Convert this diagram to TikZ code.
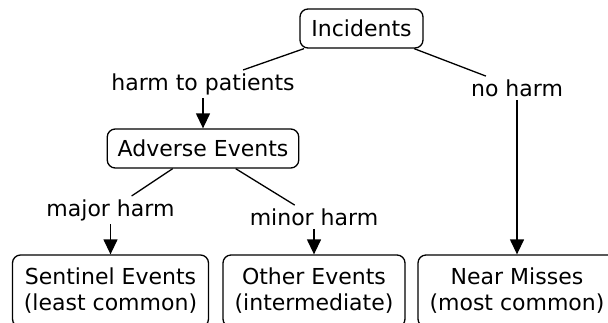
\documentclass[tikz,border=0pt]{standalone}
\usepackage{fontspec}
\setmainfont{DejaVu Sans}
\usetikzlibrary{arrows.meta}

\begin{document}
\begin{tikzpicture}[x=0.5pt, y=-0.5pt,
  box/.style={rectangle, rounded corners=4pt, draw, line width=0.65pt, inner sep=1pt, align=center, font=\fontsize{11}{13}\selectfont},
  lbl/.style={inner sep=1.5pt, font=\fontsize{11}{13}\selectfont},
  arr/.style={-{Triangle[length=7.5pt, width=7pt]}, line width=0.65pt},
  ln/.style={line width=0.65pt}
]
\clip (0,0) rectangle (608,322);
\node[box, minimum width=61.5pt, minimum height=19.5pt] (inc) at (361.5,28.5) {Incidents};
\node[lbl] (harm) at (203,84) {harm to patients};
\node[lbl] (noharm) at (517,88) {no harm};
\node[box, minimum width=95.75pt, minimum height=19.5pt] (adv) at (203,148.5) {Adverse Events};
\node[lbl] (major) at (110.5,210) {major harm};
\node[lbl] (minor) at (314,217) {minor harm};
\node[box, minimum width=98pt, minimum height=36pt] (sent) at (110.5,291) {Sentinel Events\\(least common)};
\node[box, minimum width=91pt, minimum height=36pt] (other) at (314,291) {Other Events\\(intermediate)};
\node[box, minimum width=99pt, minimum height=36pt] (near) at (517,291) {Near Misses\\(most common)};
\draw[ln] (inc) -- (harm);
\draw[arr] (harm) -- (adv);
\draw[ln] (inc) -- (noharm);
\draw[arr] (noharm) -- (near);
\draw[ln] (adv) -- (major);
\draw[arr] (major) -- (sent);
\draw[ln] (adv) -- (minor);
\draw[arr] (minor) -- (other);
\end{tikzpicture}
\end{document}
